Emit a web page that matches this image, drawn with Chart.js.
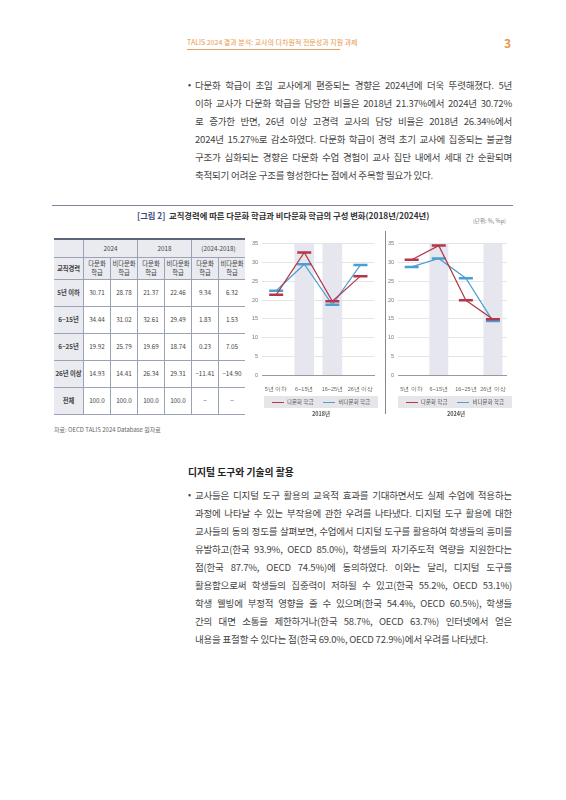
<!DOCTYPE html>
<html><head><meta charset="utf-8">
<script src="https://cdn.jsdelivr.net/npm/chart.js@4"></script>
<style>
body{margin:0;width:566px;height:800px;background:#fff;font-family:"Noto Sans CJK KR","Noto Sans",sans-serif;position:relative;overflow:hidden;color:#333}
.a{position:absolute;white-space:nowrap}
.p{position:absolute;left:195px;width:317px;font-size:9.5px;letter-spacing:-0.2px;line-height:18px;color:#444}
.p span{display:block;text-align:justify;text-align-last:justify;white-space:normal;height:18px;overflow:visible}
.p span.l{text-align-last:left}
.bul{position:absolute;left:188px;font-size:9px;line-height:18px;color:#444}
table{position:absolute;left:54px;top:238px;border-collapse:collapse;font-size:6.3px;color:#444}
td{border:1px solid #9aa3b3;text-align:center;padding:0;width:26px}
tr.h td{background:#e9ebf1}
td.f{background:#e9ebf1;font-weight:bold;width:29px}
table{border-top:2px solid #5b6678;border-bottom:1.5px solid #5b6678}
tr td:first-child{border-left:none}tr td:last-child{border-right:none}
.leg{position:absolute;height:12px;background:#e6e6ea;font-size:5.5px;color:#555;display:flex;align-items:center;justify-content:center;gap:10px}
.leg i{display:inline-block;width:12px;height:1.5px;vertical-align:middle;margin-right:3px}
</style></head><body>
<div class="a" style="left:187px;top:37px;font-size:7px;color:#e8994a">TALIS 2024 결과 분석: 교사의 다차원적 전문성과 지원 과제</div>
<div class="a" style="left:187px;top:49px;width:153px;height:1px;background:#e8a060"></div>
<div class="a" style="left:504px;top:34px;font-size:12px;font-weight:bold;color:#e8994a">3</div>
<div class="bul" style="top:76px">•</div>
<div class="p" style="top:76px"><span>다문화 학급이 초임 교사에게 편중되는 경향은 2024년에 더욱 뚜렷해졌다. 5년</span><span>이하 교사가 다문화 학급을 담당한 비율은 2018년 21.37%에서 2024년 30.72%</span><span>로 증가한 반면, 26년 이상 고경력 교사의 담당 비율은 2018년 26.34%에서</span><span>2024년 15.27%로 감소하였다. 다문화 학급이 경력 초기 교사에 집중되는 불균형</span><span>구조가 심화되는 경향은 다문화 수업 경험이 교사 집단 내에서 세대 간 순환되며</span><span class="l">축적되기 어려운 구조를 형성한다는 점에서 주목할 필요가 있다.</span></div>
<div class="a" style="left:52px;top:205px;width:461px;height:1px;background:#7a8597"></div>
<div class="a" style="left:137px;top:209px;font-size:8.3px;font-weight:bold;color:#333"><span style="color:#3a4a7a">[그림 2]</span>&nbsp; 교직경력에 따른 다문화 학급과 비다문화 학급의 구성 변화(2018년/2024년)</div>
<div class="a" style="left:473px;top:217px;font-size:5.5px;color:#777">(단위: %, %p)</div>
<table id="tb">
<tr class="h" style="height:18px"><td class="f"></td><td colspan="2">2024</td><td colspan="2">2018</td><td colspan="2">(2024-2018)</td></tr>
<tr class="h" style="height:22px"><td class="f">교직경력</td><td>다문화<br>학급</td><td>비다문화<br>학급</td><td>다문화<br>학급</td><td>비다문화<br>학급</td><td>다문화<br>학급</td><td>비다문화<br>학급</td></tr>
</table>
<div class="a" style="left:54px;top:425px;font-size:6px;color:#666">자료: OECD TALIS 2024 Database 원자료</div>
<div style="position:absolute;left:248px;top:234px;width:136px;height:162px"><canvas id="c1"></canvas></div>
<div style="position:absolute;left:384px;top:234px;width:132px;height:162px"><canvas id="c2"></canvas></div>
<div class="a" style="left:385px;top:231px;width:1px;height:183px;background:#888"></div>
<div class="leg" style="left:264px;top:396px;width:114px"><span><i style="background:#b5364a"></i>다문화 학급</span><span><i style="background:#4a9fd0"></i>비다문화 학급</span></div>
<div class="leg" style="left:398px;top:396px;width:114px"><span><i style="background:#b5364a"></i>다문화 학급</span><span><i style="background:#4a9fd0"></i>비다문화 학급</span></div>
<div class="a" style="left:312px;top:410px;font-size:5.5px;font-weight:bold;color:#555">2018년</div>
<div class="a" style="left:447px;top:410px;font-size:5.5px;font-weight:bold;color:#555">2024년</div>
<div class="a" style="left:188px;top:465px;font-size:9.8px;font-weight:bold;color:#222">디지털 도구와 기술의 활용</div>
<div class="bul" style="top:486px">•</div>
<div class="p" style="top:486px"><span>교사들은 디지털 도구 활용의 교육적 효과를 기대하면서도 실제 수업에 적용하는</span><span>과정에 나타날 수 있는 부작용에 관한 우려를 나타냈다. 디지털 도구 활용에 대한</span><span>교사들의 동의 정도를 살펴보면, 수업에서 디지털 도구를 활용하여 학생들의 흥미를</span><span>유발하고(한국 93.9%, OECD 85.0%), 학생들의 자기주도적 역량을 지원한다는</span><span>점(한국 87.7%, OECD 74.5%)에 동의하였다. 이와는 달리, 디지털 도구를</span><span>활용함으로써 학생들의 집중력이 저하될 수 있고(한국 55.2%, OECD 53.1%)</span><span>학생 웰빙에 부정적 영향을 줄 수 있으며(한국 54.4%, OECD 60.5%), 학생들</span><span>간의 대면 소통을 제한하거나(한국 58.7%, OECD 63.7%) 인터넷에서 얻은</span><span class="l">내용을 표절할 수 있다는 점(한국 69.0%, OECD 72.9%)에서 우려를 나타냈다.</span></div>
<script>
const categories=["5년 이하","6~15년","16~25년","26년 이상"];
const tableRows=["5년 이하","6~15년","6~25년","26년 이상","전체"];
const multi2024=[30.71,34.44,19.92,14.93];
const non2024=[28.78,31.02,25.79,14.41];
const multi2018=[21.37,32.61,19.69,26.34];
const non2018=[22.46,29.49,18.74,29.31];
const diffMulti=["9.34","1.83","0.23","-11.41","-"];
const diffNon=["6.32","1.53","7.05","-14.90","-"];
const bands2018=[null,35,35,null];
const bands2024=[null,35,null,35];

const tb=document.getElementById('tb');
const f=v=>v.toFixed(2);
const cols=[multi2024.map(f).concat(["100.0"]),non2024.map(f).concat(["100.0"]),multi2018.map(f).concat(["100.0"]),non2018.map(f).concat(["100.0"]),diffMulti,diffNon];
tableRows.forEach((r,i)=>{const tr=document.createElement('tr');tr.style.height='27px';
 tr.innerHTML='<td class="f">'+r+'</td>'+cols.map(c=>'<td>'+c[i].replace('-','−')+'</td>').join('');tb.appendChild(tr);});

function mk(id,m,n,b){
 new Chart(document.getElementById(id),{data:{labels:categories,datasets:[
  {type:'line',data:m,borderColor:'#b5364a',borderWidth:1.2,pointStyle:'line',pointRadius:7,pointBorderWidth:2.5,pointBorderColor:'#b5364a',order:1},
  {type:'line',data:n,borderColor:'#4a9fd0',borderWidth:1.2,pointStyle:'line',pointRadius:7,pointBorderWidth:2.5,pointBorderColor:'#4a9fd0',order:2},
  {type:'bar',data:b,backgroundColor:'#e6e7ee',barPercentage:0.7,categoryPercentage:1,order:3}]},
 options:{responsive:true,maintainAspectRatio:false,animation:false,
  layout:{padding:{top:2,right:4}},
  plugins:{legend:{display:false},tooltip:{enabled:false}},
  scales:{y:{min:0,max:35,ticks:{stepSize:5,font:{size:5.5},color:'#777',padding:4},grid:{color:'#e4e4e4',drawTicks:false},border:{display:false}},
   x:{ticks:{font:{size:5.5},color:'#666',padding:3,maxRotation:0,minRotation:0,autoSkip:false},grid:{display:false},border:{color:'#999'}}}}});
}
mk('c1',multi2018,non2018,bands2018);
mk('c2',multi2024,non2024,bands2024);
</script>
</body></html>
